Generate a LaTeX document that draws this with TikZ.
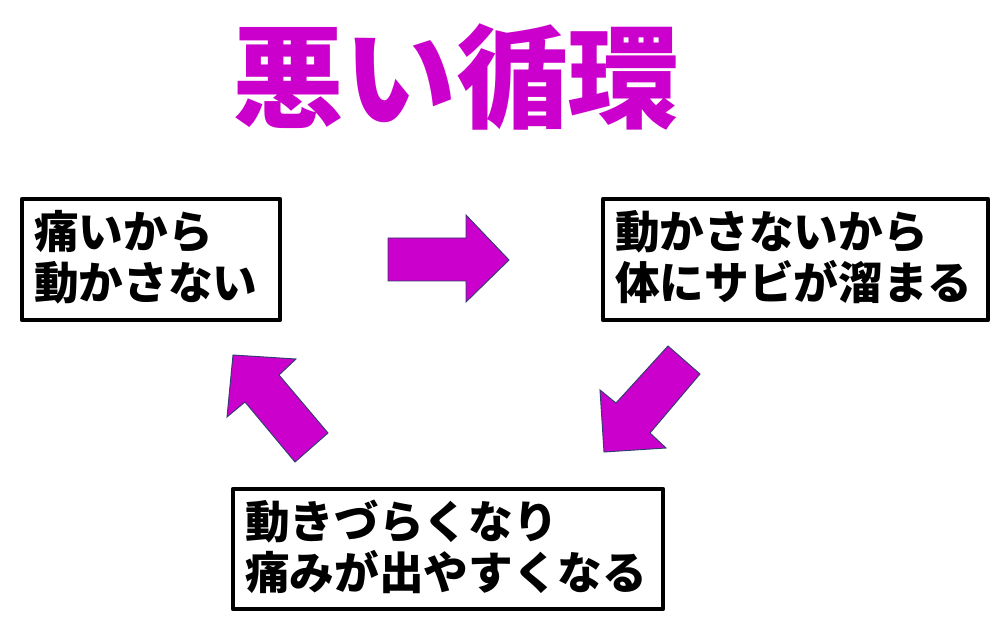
\documentclass[tikz,border=0pt]{standalone}
\usepackage{fontspec}
\newfontfamily\cjk{Noto Sans CJK JP}
\definecolor{mag}{RGB}{204,0,204}
\definecolor{edge}{RGB}{47,62,110}
\tikzset{
  box/.style={draw=black, line width=3.5pt, line join=round, fill=white},
  boxtext/.style={anchor=west, inner sep=0pt, align=left, font=\cjk\bfseries\fontsize{33.5pt}{38.25pt}\selectfont},
  blockarrow/.style={fill=mag, draw=edge, line width=0.7pt, line join=miter},
  titletext/.style={inner sep=0pt, text=mag, font=\cjk\bfseries\fontsize{84pt}{90pt}\selectfont}
}
\begin{document}
\begin{tikzpicture}[x=0.75pt, y=-0.75pt]
\useasboundingbox (0,0) rectangle (1008,631);
\fill[white] (0,0) rectangle (1008,631);
\node[titletext] (title) at (456,77) {悪い循環};
% boxes
\draw[box] (22,199) rectangle (280,320) coordinate (b1);
\draw[box] (603,199) rectangle (988,320) coordinate (b2);
\draw[box] (233,489) rectangle (663,609) coordinate (b3);
\node[boxtext] (t1) at (34,257) {痛いから\\動かさない};
\node[boxtext] (t2) at (615,257) {動かさないから\\体にサビが溜まる};
\node[boxtext] (t3) at (245,547) {動きづらくなり\\痛みが出やすくなる};
% block arrows
\draw[blockarrow] (388,238) -- (466,238) -- (466,215) -- (509,260) -- (466,302) -- (466,281) -- (388,281) -- cycle;
\draw[blockarrow] (604,452) -- (600,390) -- (616,403) -- (668,346) -- (700,374) -- (650,433) -- (666,448) -- cycle;
\draw[blockarrow] (233,355) -- (296,359) -- (279,375) -- (328,433) -- (295,462) -- (245,402) -- (227,417) -- cycle;
\end{tikzpicture}
\end{document}
